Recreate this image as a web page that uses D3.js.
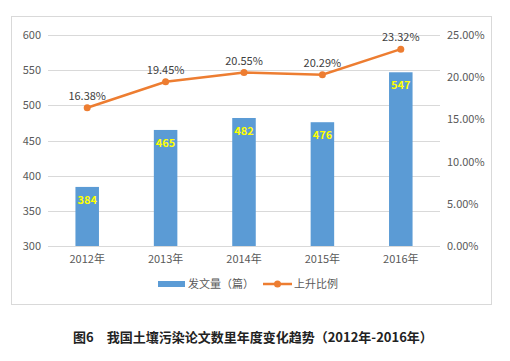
<!DOCTYPE html>
<html><head><meta charset="utf-8">
<script src="https://cdn.jsdelivr.net/npm/d3@7"></script>
<style>body{margin:0;background:#fff;}svg{display:block;}</style>
</head><body>
<script>
const categories = ["2012年","2013年","2014年","2015年","2016年"];
const papers = [384, 465, 482, 476, 547];
const riseRatio = [16.38, 19.45, 20.55, 20.29, 23.32];
const leftTicks = [300,350,400,450,500,550,600];
const rightTicks = [0,5,10,15,20,25];
const seriesNames = ["发文量（篇）","上升比例"];
const title = "图6　我国土壤污染论文数里年度变化趋势（2012年-2016年）";

const W=510,H=361;
const font = "'Noto Sans CJK SC','Noto Sans',sans-serif";
const svg=d3.select("body").append("svg").attr("width",W).attr("height",H);
svg.append("rect").attr("x",11.5).attr("y",16.5).attr("width",480).attr("height",288)
  .attr("fill","#fff").attr("stroke","#d9d9d9");

const L=48,R=440,T=35,B=246;
const x=d3.scaleBand().domain(categories).range([L,R]).paddingInner(0.7).paddingOuter(0.35);
const yL=d3.scaleLinear().domain([300,600]).range([B,T]);
const yR=d3.scaleLinear().domain([0,25]).range([B,T]);

// grid
svg.append("g").selectAll("line").data(leftTicks).join("line")
  .attr("x1",L).attr("x2",R).attr("y1",d=>Math.round(yL(d))+0.5).attr("y2",d=>Math.round(yL(d))+0.5)
  .attr("stroke","#d9d9d9").attr("stroke-width",1);

const axL=svg.append("g").attr("transform",`translate(${L},0)`)
  .call(d3.axisLeft(yL).tickValues(leftTicks).tickSize(0).tickPadding(7));
axL.select(".domain").remove();
axL.selectAll("text").attr("font-family",font).attr("font-size",11).attr("fill","#595959");

const axR=svg.append("g").attr("transform",`translate(${R},0)`)
  .call(d3.axisRight(yR).tickValues(rightTicks).tickSize(0).tickPadding(7).tickFormat(d=>d.toFixed(2)+"%"));
axR.select(".domain").remove();
axR.selectAll("text").attr("font-family",font).attr("font-size",11).attr("fill","#595959");

const axB=svg.append("g").attr("transform",`translate(0,${B})`)
  .call(d3.axisBottom(x).tickSize(0).tickPadding(9));
axB.select(".domain").remove();
axB.selectAll("text").attr("font-family",font).attr("font-size",11).attr("fill","#595959");

// bars
svg.append("g").selectAll("rect").data(papers).join("rect")
  .attr("x",(d,i)=>x(categories[i])).attr("width",x.bandwidth())
  .attr("y",d=>yL(d)).attr("height",d=>B-yL(d)).attr("fill","#5b9bd5");
svg.append("g").selectAll("text").data(papers).join("text")
  .attr("x",(d,i)=>x(categories[i])+x.bandwidth()/2).attr("y",d=>yL(d)+17)
  .attr("text-anchor","middle").attr("font-family",font).attr("font-size",11).attr("font-weight","bold")
  .attr("fill","#ffff00").text(d=>d);

// line
const cx=(i)=>x(categories[i])+x.bandwidth()/2;
svg.append("path").datum(riseRatio)
  .attr("d",d3.line().x((d,i)=>cx(i)).y(d=>yR(d)))
  .attr("fill","none").attr("stroke","#ed7d31").attr("stroke-width",2.5);
svg.append("g").selectAll("circle").data(riseRatio).join("circle")
  .attr("cx",(d,i)=>cx(i)).attr("cy",d=>yR(d)).attr("r",3.5).attr("fill","#ed7d31");
svg.append("g").selectAll("text").data(riseRatio).join("text")
  .attr("x",(d,i)=>cx(i)).attr("y",d=>yR(d)-8)
  .attr("text-anchor","middle").attr("font-family",font).attr("font-size",11).attr("fill","#404040")
  .text(d=>d.toFixed(2)+"%");

// legend
const lg=svg.append("g");
lg.append("rect").attr("x",158).attr("y",281).attr("width",27).attr("height",6).attr("fill","#5b9bd5");
lg.append("text").attr("x",188).attr("y",288).attr("font-family",font).attr("font-size",11).attr("fill","#595959").text(seriesNames[0]);
lg.append("line").attr("x1",263).attr("x2",292).attr("y1",284).attr("y2",284).attr("stroke","#ed7d31").attr("stroke-width",2.5);
lg.append("circle").attr("cx",277.5).attr("cy",284).attr("r",3.5).attr("fill","#ed7d31");
lg.append("text").attr("x",294).attr("y",288).attr("font-family",font).attr("font-size",11).attr("fill","#595959").text(seriesNames[1]);

// title
svg.append("text").attr("x",73).attr("y",342).attr("font-family",font).attr("font-size",13)
  .attr("font-weight","bold").attr("fill","#222").text(title);
</script>
</body></html>
